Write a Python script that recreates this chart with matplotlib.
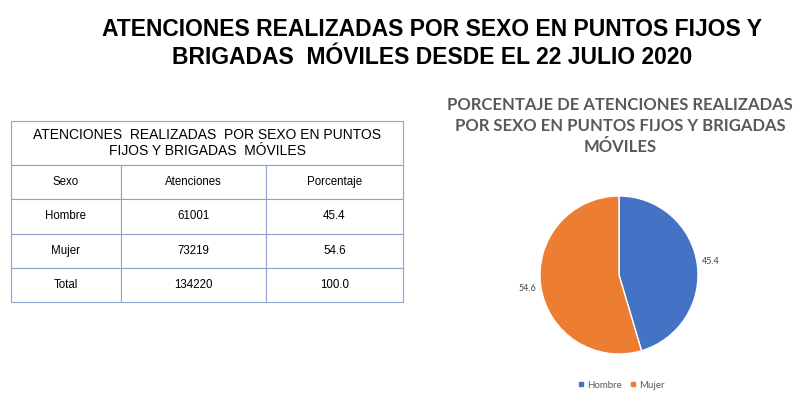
import matplotlib.pyplot as plt
from matplotlib.lines import Line2D

# datos
sexo = ['Hombre', 'Mujer']
atenciones = [61001, 73219]
porcentaje = [45.4, 54.6]
total_aten = 134220
total_pct = 100.0
colores = ['#4472C4', '#ED7D31']

fig = plt.figure(figsize=(8, 3.98), dpi=100)
fig.patch.set_facecolor('white')

# titulo principal
for y, linea in ((30, 'ATENCIONES REALIZADAS POR SEXO EN PUNTOS FIJOS Y'),
                 (57, 'BRIGADAS  MÓVILES DESDE EL 22 JULIO 2020')):
    fig.text(432/800, 1-y/398, linea, ha='center', va='center', fontsize=16.5,
             fontweight='bold', family=['Liberation Sans', 'DejaVu Sans'])

# tabla
axt = fig.add_axes([11/800, 96/398, 392/800, 181/398])
axt.axis('off')
borde = '#8FA3CC'
t1 = axt.table(cellText=[['ATENCIONES  REALIZADAS  POR SEXO EN PUNTOS\nFIJOS Y BRIGADAS  MÓVILES']],
               cellLoc='center', bbox=[0, 137/181, 1, 44/181])
filas = [['Sexo', 'Atenciones', 'Porcentaje']]
for s, a, p in zip(sexo, atenciones, porcentaje):
    filas.append([s, str(a), f'{p:.1f}'])
filas.append(['Total', str(total_aten), f'{total_pct:.1f}'])
t2 = axt.table(cellText=filas, cellLoc='center', bbox=[0, 0, 1, 137/181],
               colWidths=[110/392, 145/392, 137/392])
for t, fs in ((t1, 10), (t2, 8.3)):
    t.auto_set_font_size(False)
    for cell in t.get_celld().values():
        cell.set_edgecolor(borde)
        cell.set_linewidth(0.8)
        cell.get_text().set_fontsize(fs)
        cell.get_text().set_family('Liberation Sans')

# titulo del pie
fig.text(620/800, 1-126/398,
         'PORCENTAJE DE ATENCIONES REALIZADAS\nPOR SEXO EN PUNTOS FIJOS Y BRIGADAS\nMÓVILES',
         ha='center', va='center', fontsize=12, fontweight='bold', color='#595959',
         family='Lato', linespacing=1.4)

# pie
axp = fig.add_axes([540/800, 44/398, 158/800, 158/398])
cunas, _, textos = axp.pie(porcentaje, colors=colores, startangle=90, counterclock=False,
                          autopct='%.1f', pctdistance=1.17,
                          wedgeprops=dict(edgecolor='white', linewidth=1))
for tx in textos:
    tx.set_fontsize(6.5)
    tx.set_color('#404040')
    tx.set_family('Lato')
axp.set_xlim(-1, 1)
axp.set_ylim(-1, 1)
axp.set_aspect('equal')

manijas = [Line2D([], [], marker='s', linestyle='', color=c, markersize=3.5) for c in colores]
leg = fig.legend(manijas, sexo, loc='center', bbox_to_anchor=(620/800, 1-385/398), ncol=2,
                 frameon=False, handletextpad=0.0, columnspacing=0.6, handlelength=1.2,
                 prop={'family': 'Lato', 'size': 7})
for tx in leg.get_texts():
    tx.set_color('#595959')

plt.savefig('out.png', dpi=100)
